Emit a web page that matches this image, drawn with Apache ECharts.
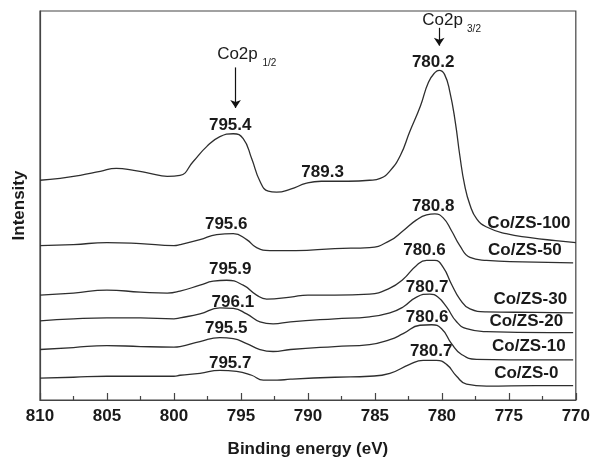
<!DOCTYPE html>
<html>
<head>
<meta charset="utf-8">
<script src="https://cdn.jsdelivr.net/npm/echarts@6/dist/echarts.min.js"></script>
<style>html,body{margin:0;padding:0;background:#fff}#c{width:593px;height:463px}</style>
</head>
<body>
<div id="c"></div>
<script>
// Binding energies (eV) and intensities (offset, arbitrary units)
const zs100E = [810,808.5,807,805.5,804.3,803,801.8,800.5,799.55,798.56,797.56,796.57,795.57,794.83,794.2,793.58,792.96,792.34,791.3,790.1,789,787,785.4,784.6,783.9,783.1,782.4,781.6,781.0,780.5,780.2,779.8,779.4,779.0,778.66,778.3,777.9,777.4,776.7,775.2,773.4,771.5,770];
const zs100I = [222,224,227,231,234,232,229,226,227,241,256,266,269,264,244,221,211,210,213,219,221,221,222,224,231,247,271,297,321,331,333,329,311,281,247,217,197,183,175,168,164,161,159];
const zs50E = [810,807.5,805,802.5,800,799.55,798.06,796.81,795.57,794.57,793.83,792.84,790.9,788,785.4,783.88,782.89,781.89,781.14,780.52,779.9,779.28,778.66,777.9,776.67,774,770.2];
const zs50I = [156,157,159,158,156,157,162,167,168,162,154,151,151,153,154,161,171,182,187,188,184,171,156,144,141,139.5,138.5];
const zs30E = [810,807.5,805,802.5,800.5,799.55,798.06,797.07,796.07,794.83,793.83,793.08,791.3,790,788,785.4,783.88,782.89,781.89,781.14,780.52,779.9,779.28,778.66,777.9,776.67,773,770.2];
const zs30I = [106,108,111,109,108,110,116,120,121,116,106,102,104,106,106,107,113,122,136,141,141,134,117,102,92,89,88.5,88];
const zs20E = [810,807.5,805,802.5,800,799.55,798.06,796.57,795.57,794.57,793.58,792.6,791.3,788,785.4,783.88,782.89,781.89,780.9,780.3,779.65,778.9,778.16,776.67,772,770.2];
const zs20I = [80,82,83,83,82,83,87,93,92.5,87,79,77,79,82,84,88,94,104,107,104,94,79,72,69,68,68];
const zs10E = [810,807.5,805,802.5,800,799.55,798.06,796.57,795.57,794.57,793.58,792.6,791.3,788,785.4,783.88,782.89,781.64,780.77,780.02,779.28,778.53,777.41,775,772,770.2];
const zs10I = [51,53,55,54,53.5,54,59,63,62,57,51,49,51,54,56,61,67,75.5,76,72,57,46,41,40.5,40.5,40.5];
const zs0E = [810,807.5,805,802.5,800,799.55,798.06,796.57,795.32,794.2,793.33,792.3,791.3,788,785.4,783.88,782.4,781.4,780.4,779.65,778.9,778.16,776.67,773,770.2];
const zs0I = [22,23,24,24,24,25,27,30,29,25,20,20,21,23,24,27,36,40,40,36,24,16,14,14.5,14.5];

const seriesNames = ['Co/ZS-100','Co/ZS-50','Co/ZS-30','Co/ZS-20','Co/ZS-10','Co/ZS-0'];
const seriesE = [zs100E, zs50E, zs30E, zs20E, zs10E, zs0E];
const seriesI = [zs100I, zs50I, zs30I, zs20I, zs10I, zs0I];
// name label anchor [eV, intensity]
const nameAnchors = [[773.5,179],[773.8,151],[773.4,102],[773.7,79],[773.5,54],[773.7,27]];
// peak labels: [text, eV, intensity]
const peakLabels = [
  [['795.4',795.8,278],['789.3',788.9,230],['780.2',780.65,341]],
  [['795.6',796.1,177],['780.8',780.65,196]],
  [['795.9',795.8,132],['780.6',781.3,151]],
  [['796.1',795.6,99],['780.7',781.1,114]],
  [['795.5',796.1,72],['780.6',781.1,84]],
  [['795.7',795.8,37],['780.7',780.8,49]]
];
const xTicks = {min:770, max:810, interval:5};

const lineColor = '#2e2e2e';
const textColor = '#1a1a1a';
const font = 'Liberation Sans, Arial, Helvetica, sans-serif';

function txt(name, coord, size, weight) {
  return {name: name, coord: coord, value: name, symbol: 'rect', symbolSize: 1,
    itemStyle: {color: 'transparent'},
    label: {show: true, position: 'inside', formatter: name, color: textColor,
      fontFamily: font, fontSize: size, fontWeight: weight}};
}

const series = seriesNames.map((nm, i) => {
  const pts = seriesE[i].map((e, k) => [e, seriesI[i][k]]);
  const mp = [txt(nm, nameAnchors[i], 17, 'bold')];
  peakLabels[i].forEach(p => mp.push(txt(p[0], [p[1], p[2]], 17, 'bold')));
  const s = {
    name: nm, type: 'line', data: pts, smooth: 0.5, showSymbol: false, silent: true,
    lineStyle: {color: lineColor, width: 1.3},
    markPoint: {silent: true, animation: false, data: mp}
  };
  if (i === 0) {
    s.markPoint.data.push(txt('Co2p', [795.26, 349], 17, 'normal'));
    s.markPoint.data.push(txt('1/2', [792.87, 340], 10, 'normal'));
    s.markPoint.data.push(txt('Co2p', [779.95, 384], 17, 'normal'));
    s.markPoint.data.push(txt('3/2', [777.6, 375], 10, 'normal'));
    s.markLine = {silent: true, animation: false, symbol: ['none','arrow'], symbolSize: 8,
      label: {show: false}, lineStyle: {color: '#111', width: 1.2, type: 'solid'},
      data: [
        [{coord: [795.4, 336]}, {coord: [795.4, 295]}],
        [{coord: [780.2, 376]}, {coord: [780.2, 358]}]
      ]};
  }
  return s;
});

const chart = echarts.init(document.getElementById('c'), null, {renderer: 'canvas'});
chart.setOption({
  animation: false,
  backgroundColor: '#fff',
  grid: {left: 40, right: 17, top: 11, bottom: 59, show: true, borderColor: '#444', borderWidth: 1.2, backgroundColor: 'transparent'},
  xAxis: {
    type: 'value', inverse: true, min: xTicks.min, max: xTicks.max, interval: xTicks.interval,
    name: 'Binding energy (eV)', nameLocation: 'middle', nameGap: 41,
    nameTextStyle: {fontFamily: font, fontSize: 17, fontWeight: 'bold', color: textColor},
    axisLine: {show: true, lineStyle: {color: '#444', width: 1.2}},
    axisTick: {show: true, inside: true, length: 7, lineStyle: {color: '#444', width: 1.2}},
    minorTick: {show: true, splitNumber: 2, length: 4, lineStyle: {color: '#444', width: 1.2}},
    axisLabel: {fontFamily: font, fontSize: 17, fontWeight: 'bold', color: textColor, margin: 8},
    splitLine: {show: false}
  },
  yAxis: {
    type: 'value', min: 0, max: 393,
    name: 'Intensity', nameLocation: 'middle', nameGap: 12,
    nameTextStyle: {fontFamily: font, fontSize: 17, fontWeight: 'bold', color: textColor},
    axisLine: {show: true, lineStyle: {color: '#444', width: 1.2}},
    axisTick: {show: false}, axisLabel: {show: false}, splitLine: {show: false}
  },
  series: series
});
</script>
</body>
</html>
